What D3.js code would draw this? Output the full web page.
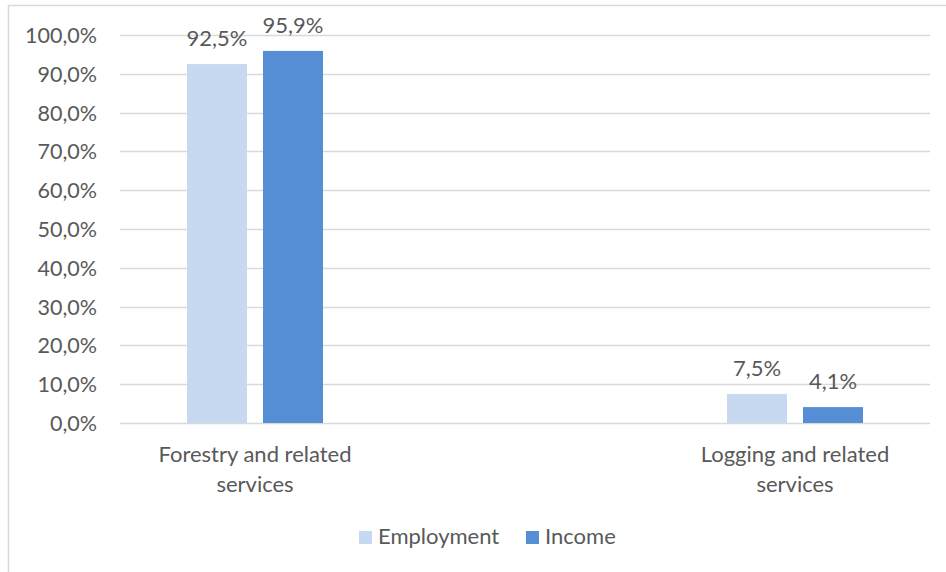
<!DOCTYPE html>
<html>
<head>
<meta charset="utf-8">
<script src="https://cdn.jsdelivr.net/npm/d3@7"></script>
<style>
  html, body { margin: 0; padding: 0; background: #fff; }
  svg { display: block; }
  text { font-family: Lato, "Open Sans", sans-serif; fill: #595959; }
</style>
</head>
<body>
<svg id="chart" width="946" height="572"></svg>
<script>
const categories = [["Forestry and related", "services"], ["Logging and related", "services"]];
const seriesNames = ["Employment", "Income"];
const employment = [92.5, 7.5];
const income = [95.9, 4.1];
const yTicks = [0, 10, 20, 30, 40, 50, 60, 70, 80, 90, 100];
const colors = ["#c6d9f1", "#558ed5"];

(function () {
const svg = d3.select("#chart");
const W = 946, H = 572;
const pLeft = 120, pRight = 930, pTop = 35, pBottom = 423;

// outer border
svg.append("rect").attr("x", 8.5).attr("y", 5.5).attr("width", W).attr("height", H)
  .attr("fill", "none").attr("stroke", "#d9d9d9").attr("stroke-width", 1.5);

const y = d3.scaleLinear().domain([0, 100]).range([pBottom, pTop]);
const x = d3.scalePoint().domain(d3.range(categories.length)).range([pLeft, pRight]).padding(0.25);
const xs = d3.scaleBand().domain(seriesNames).range([-68, 68]).paddingInner(16 / 76).paddingOuter(0);

const fmt = v => v.toFixed(1).replace(".", ",") + "%";

// gridlines
svg.append("g").selectAll("line").data(yTicks).join("line")
  .attr("x1", pLeft).attr("x2", pRight)
  .attr("y1", d => Math.round(y(d)) + 0.5).attr("y2", d => Math.round(y(d)) + 0.5)
  .attr("stroke", "#d9d9d9").attr("stroke-width", 1.5);

// y axis labels
const yAxis = d3.axisLeft(y).tickValues(yTicks).tickFormat(fmt).tickSize(0).tickPadding(0);
const ga = svg.append("g").attr("transform", `translate(97,0)`).call(yAxis);
ga.select(".domain").remove();
ga.selectAll("text").attr("font-size", 21.5).attr("font-family", "Lato, 'Open Sans', sans-serif").attr("fill", "#595959").attr("dy", "0.35em");

const series = [employment, income];
const data = [];
categories.forEach((c, i) => seriesNames.forEach((s, j) => data.push({ i, s, j, v: series[j][i] })));

// bars
svg.append("g").selectAll("rect").data(data).join("rect")
  .attr("x", d => x(d.i) + xs(d.s))
  .attr("width", xs.bandwidth())
  .attr("y", d => y(d.v))
  .attr("height", d => y(0) - y(d.v))
  .attr("fill", d => colors[d.j]);

// data labels
svg.append("g").selectAll("text").data(data).join("text")
  .attr("x", d => x(d.i) + xs(d.s) + xs.bandwidth() / 2)
  .attr("y", d => y(d.v) - 18)
  .attr("text-anchor", "middle")
  .attr("font-size", 22)
  .text(d => fmt(d.v));

// category labels
const cg = svg.append("g").selectAll("text").data(categories).join("text")
  .attr("text-anchor", "middle")
  .attr("font-size", 22);
cg.each(function (d, i) {
  d3.select(this).selectAll("tspan").data(d).join("tspan")
    .attr("x", x(i)).attr("y", (t, k) => 462 + k * 30).text(t => t);
});

// legend
const legendItems = [{ name: "Employment", x: 359 }, { name: "Income", x: 526 }];
const lg = svg.append("g").selectAll("g").data(legendItems).join("g")
  .attr("transform", d => `translate(${d.x},531)`);
lg.append("rect").attr("width", 13).attr("height", 13).attr("fill", (d, i) => colors[i]);
lg.append("text").attr("x", 19).attr("y", 13).attr("font-size", 22).text(d => d.name);
})();
</script>
</body>
</html>
